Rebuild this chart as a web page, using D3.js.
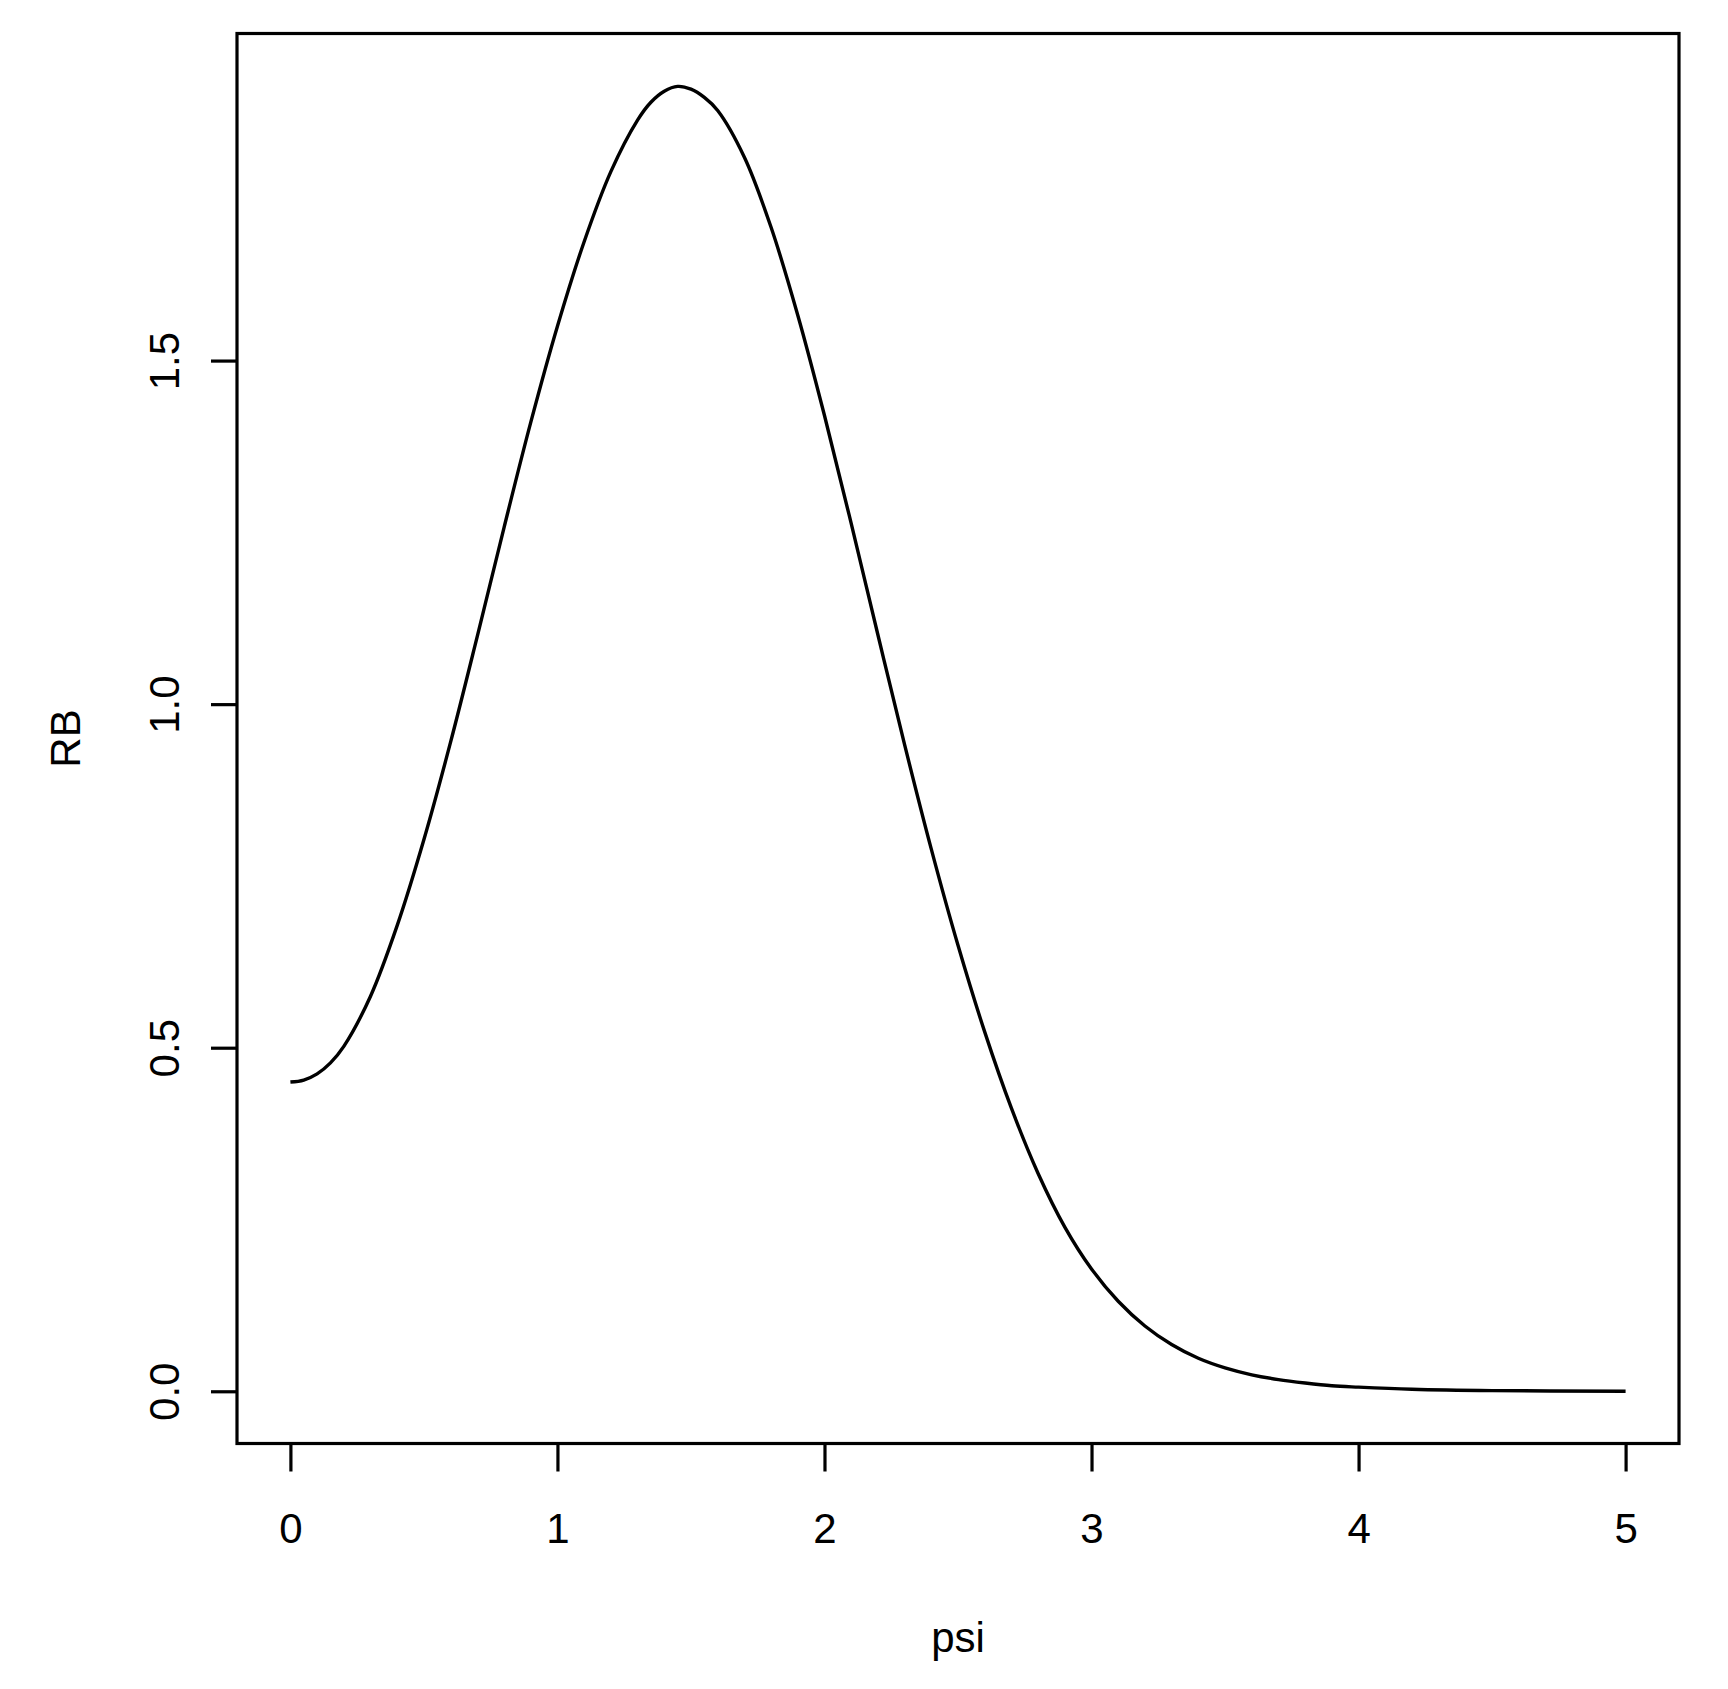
<!DOCTYPE html>
<html>
<head>
<meta charset="utf-8">
<script src="https://cdn.jsdelivr.net/npm/d3@7"></script>
<style>
  html, body { margin: 0; padding: 0; background: #ffffff; }
  svg { display: block; }
  text { font-family: "Liberation Sans", Arial, Helvetica, sans-serif; fill: #000; }
</style>
</head>
<body>
<svg id="chart" width="1728" height="1689"></svg>
<script>
// ---- data ----
const psi = [0.0, 0.05, 0.1, 0.15, 0.2, 0.3, 0.4, 0.5, 0.6, 0.7, 0.8, 0.9,
             1.0, 1.1, 1.2, 1.3, 1.35, 1.4, 1.45, 1.5, 1.55, 1.6, 1.7, 1.8, 1.9,
             2.0, 2.1, 2.2, 2.3, 2.4, 2.5, 2.6, 2.7, 2.8, 2.9,
             3.0, 3.1, 3.2, 3.3, 3.4, 3.5, 3.6, 3.7, 3.8, 3.9,
             4.0, 4.2, 4.5, 5.0];
const rb  = [0.450, 0.453, 0.462, 0.478, 0.502, 0.575, 0.678, 0.803, 0.945, 1.099, 1.257, 1.410,
             1.550, 1.673, 1.775, 1.850, 1.876, 1.892, 1.899, 1.895, 1.883, 1.864, 1.796, 1.694, 1.566,
             1.420, 1.263, 1.101, 0.941, 0.789, 0.649, 0.523, 0.412, 0.317, 0.239,
             0.178, 0.131, 0.095, 0.068, 0.048, 0.034, 0.024, 0.017, 0.012, 0.008,
             0.006, 0.003, 0.001, 0.000];
const xTicks = [0, 1, 2, 3, 4, 5];
const xTickLabels = ["0", "1", "2", "3", "4", "5"];
const yTicks = [0, 0.5, 1.0, 1.5];
const yTickLabels = ["0.0", "0.5", "1.0", "1.5"];
const xTitle = "psi";
const yTitle = "RB";

// ---- layout ----
const svg = d3.select("#chart");
const plotL = 237, plotR = 1679, plotT = 33.5, plotB = 1443.5;
const x = d3.scaleLinear().domain([-0.2, 5.2]).range([plotL, plotR]);
const y = d3.scaleLinear().domain([-0.076, 1.976]).range([plotB, plotT]);
const fontSize = 42;

// curve
const pts = psi.map((p, i) => [p, rb[i]]);
const line = d3.line().x(d => x(d[0])).y(d => y(d[1])).curve(d3.curveCatmullRom.alpha(0.5));
svg.append("path")
  .attr("d", line(pts))
  .attr("fill", "none")
  .attr("stroke", "#000")
  .attr("stroke-width", 3.4)
  .attr("stroke-linejoin", "round");

// box
svg.append("rect")
  .attr("x", plotL).attr("y", plotT)
  .attr("width", plotR - plotL).attr("height", plotB - plotT)
  .attr("fill", "none").attr("stroke", "#000").attr("stroke-width", 3.2);

// x axis
const xAxis = d3.axisBottom(x).tickValues(xTicks).tickSize(28).tickPadding(0)
  .tickFormat((d, i) => xTickLabels[i]);
const gx = svg.append("g").attr("transform", `translate(0,${plotB})`).call(xAxis);
gx.select(".domain").remove();
gx.selectAll(".tick line").attr("stroke", "#000").attr("stroke-width", 3.2);
gx.selectAll(".tick text")
  .attr("y", 99.5).attr("dy", null)
  .style("font-size", fontSize + "px")
  .attr("fill", "#000");
gx.attr("font-family", null).attr("font-size", null);

// y axis
const yAxis = d3.axisLeft(y).tickValues(yTicks).tickSize(27).tickPadding(0)
  .tickFormat((d, i) => yTickLabels[i]);
const gy = svg.append("g").attr("transform", `translate(${plotL + 1},0)`).call(yAxis);
gy.select(".domain").remove();
gy.selectAll(".tick line").attr("stroke", "#000").attr("stroke-width", 3.2);
gy.selectAll(".tick text")
  .attr("x", null).attr("dy", null)
  .attr("transform", "translate(-59,0) rotate(-90)")
  .attr("text-anchor", "middle")
  .style("font-size", fontSize + "px")
  .attr("fill", "#000");
gy.attr("font-family", null).attr("font-size", null);

// titles
svg.append("text")
  .attr("x", (plotL + plotR) / 2).attr("y", 1652)
  .attr("text-anchor", "middle")
  .style("font-size", fontSize + "px")
  .text(xTitle);
svg.append("text")
  .attr("transform", `translate(80,${(plotT + plotB) / 2}) rotate(-90)`)
  .attr("text-anchor", "middle")
  .style("font-size", fontSize + "px")
  .text(yTitle);
</script>
</body>
</html>
